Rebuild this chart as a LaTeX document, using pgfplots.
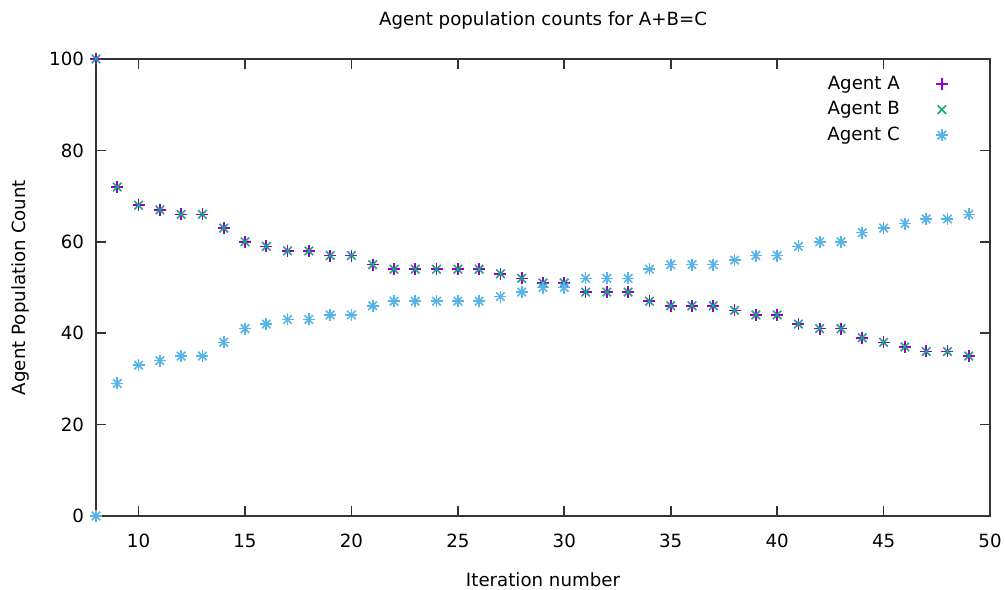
\documentclass[border=0pt]{standalone}
\usepackage{fontspec}
\setmainfont{DejaVu Sans}
\usepackage{pgfplots}
\usepackage{pgfplotstable}
\pgfplotsset{compat=1.18}

\definecolor{gpA}{HTML}{9400D3}
\definecolor{gpB}{HTML}{1AA67A}
\definecolor{gpC}{HTML}{56B4E9}

% gnuplot style asterisk: + and x on top of each other
\pgfdeclareplotmark{gpstar}{\pgfuseplotmark{+}\pgfuseplotmark{x}}

\pgfplotstableread{
iter A B C
8 100 100 0
9 72 72 29
10 68 68 33
11 67 67 34
12 66 66 35
13 66 66 35
14 63 63 38
15 60 60 41
16 59 59 42
17 58 58 43
18 58 58 43
19 57 57 44
20 57 57 44
21 55 55 46
22 54 54 47
23 54 54 47
24 54 54 47
25 54 54 47
26 54 54 47
27 53 53 48
28 52 52 49
29 51 51 50
30 51 51 50
31 49 49 52
32 49 49 52
33 49 49 52
34 47 47 54
35 46 46 55
36 46 46 55
37 46 46 55
38 45 45 56
39 44 44 57
40 44 44 57
41 42 42 59
42 41 41 60
43 41 41 60
44 39 39 62
45 38 38 63
46 37 37 64
47 36 36 65
48 36 36 65
49 35 35 66
}\agents

\begin{document}
\begin{tikzpicture}
\useasboundingbox (-48pt,-36.5pt) rectangle (454.5pt,258pt);
\begin{axis}[
  scale only axis, width=447pt, height=228.5pt,
  xmin=8, xmax=50, ymin=0, ymax=100,
  xtick={10,15,...,50}, ytick={0,20,...,100},
  tick align=inside, tick pos=both,
  major tick length=5pt,
  axis line style={black!80, line width=0.8pt},
  every tick/.style={black!80, line width=0.8pt},
  font=\fontsize{9.1}{11}\selectfont,
  /pgf/number format/assume math mode=true,
  xticklabel style={yshift=-5.5pt},
  yticklabel style={xshift=-2.5pt},
  title={Agent population counts for A+B=C},
  title style={at={(axis description cs:0.5,1)}, anchor=center, yshift=13.5pt},
  xlabel={Iteration number},
  xlabel style={at={(axis description cs:0.5,0)}, anchor=center, yshift=-32pt},
  ylabel={Agent Population Count},
  ylabel style={at={(axis description cs:-0.085,0.5)}, anchor=center},
  clip=false,
  legend plot pos=right,
  legend style={draw=none, fill=none, at={(0.96,0.981)}, anchor=north east,
                row sep=0.6pt, column sep=16pt, cells={anchor=east}},
]
\addplot[only marks, mark=+, mark size=3pt, gpA, line width=0.8pt] table[x=iter, y=A] {\agents};
\addlegendentry{Agent A}
\addplot[only marks, mark=x, mark size=3pt, gpB, line width=0.8pt] table[x=iter, y=B] {\agents};
\addlegendentry{Agent B}
\addplot[only marks, mark=gpstar, mark size=3pt, gpC, line width=0.8pt] table[x=iter, y=C] {\agents};
\addlegendentry{Agent C}
\end{axis}
\end{tikzpicture}
\end{document}
